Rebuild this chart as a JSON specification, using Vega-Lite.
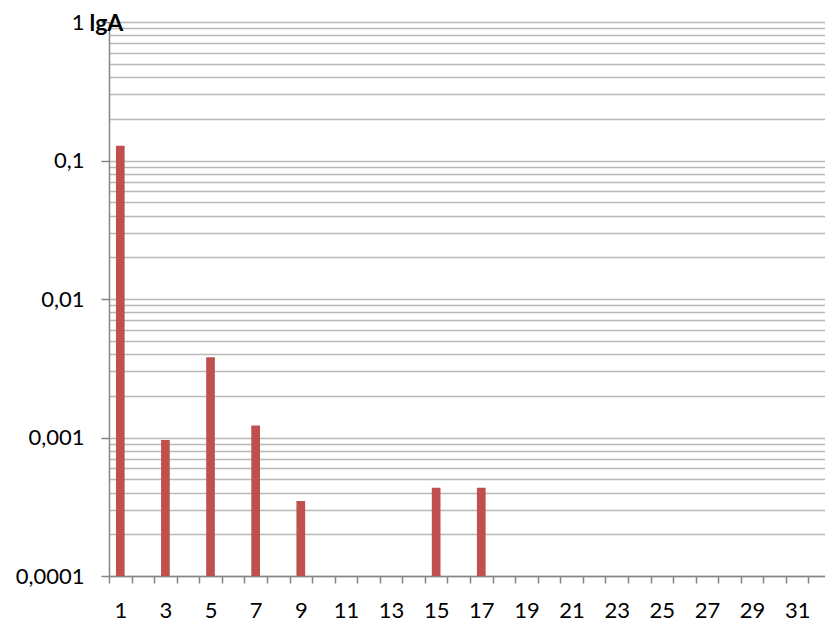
{
  "$schema": "https://vega.github.io/schema/vega-lite/v6.json",
  "autosize": {"type": "none"},
  "padding": {"left": 109, "top": 22, "right": 0, "bottom": 45},
  "width": 716,
  "height": 554,
  "background": "white",
  "config": {"view": {"stroke": null}, "font": "Lato"},
  "data": {
    "values": [
      {"harmonic": 1, "value": 0.128},
      {"harmonic": 3, "value": 0.00096},
      {"harmonic": 5, "value": 0.0038},
      {"harmonic": 7, "value": 0.00122},
      {"harmonic": 9, "value": 0.000348},
      {"harmonic": 15, "value": 0.000434},
      {"harmonic": 17, "value": 0.000434}
    ]
  },
  "mark": {"type": "bar", "color": "#C0504D", "clip": true},
  "encoding": {
    "x": {
      "field": "harmonic",
      "type": "ordinal",
      "scale": {
        "domain": [1,2,3,4,5,6,7,8,9,10,11,12,13,14,15,16,17,18,19,20,21,22,23,24,25,26,27,28,29,30,31,32],
        "range": [0, 722],
        "paddingInner": 0.614,
        "paddingOuter": 0.307
      },
      "axis": {
        "title": null,
        "labelAngle": 0,
        "labelExpr": "datum.value % 2 == 1 ? datum.label : ''",
        "labelOverlap": false,
        "tickOffset": -11.28,
        "labelOffset": 11.28,
        "tickSize": 7,
        "tickColor": "#868686",
        "tickWidth": 1.5,
        "domainColor": "#868686",
        "domainWidth": 1.5,
        "labelFontSize": 22,
        "labelPadding": 17,
        "labelColor": "#000000",
        "grid": false
      }
    },
    "y": {
      "field": "value",
      "type": "quantitative",
      "stack": null,
      "scale": {"type": "log", "domain": [0.0001, 1]},
      "axis": {
        "title": "lgA",
        "titleAngle": 0,
        "titleAlign": "left",
        "titleBaseline": "middle",
        "titleX": -20,
        "titleY": 1,
        "titleFontSize": 23,
        "titleFontWeight": "bold",
        "titleColor": "#000000",
        "values": [0.0001,0.0002,0.0003,0.0004,0.0005,0.0006,0.0007,0.0008,0.0009,0.001,0.002,0.003,0.004,0.005,0.006,0.007,0.008,0.009,0.01,0.02,0.03,0.04,0.05,0.06,0.07,0.08,0.09,0.1,0.2,0.3,0.4,0.5,0.6,0.7,0.8,0.9,1],
        "grid": true,
        "gridColor": "#b8b8b8",
        "gridWidth": 1.3,
        "labelExpr": "indexof([0.0001,0.001,0.01,0.1,1], datum.value) >= 0 ? replace(toString(datum.value), '.', ',') : ''",
        "labelOverlap": false,
        "tickOpacity": {"condition": {"test": "indexof([0.0001,0.001,0.01,0.1,1], datum.value) >= 0", "value": 1}, "value": 0},
        "tickSize": 8,
        "tickColor": "#868686",
        "tickWidth": 1.5,
        "domainColor": "#868686",
        "domainWidth": 1.5,
        "labelFontSize": 22,
        "labelPadding": 17,
        "labelColor": "#000000"
      }
    },
    "y2": {"datum": 0.0001}
  }
}
